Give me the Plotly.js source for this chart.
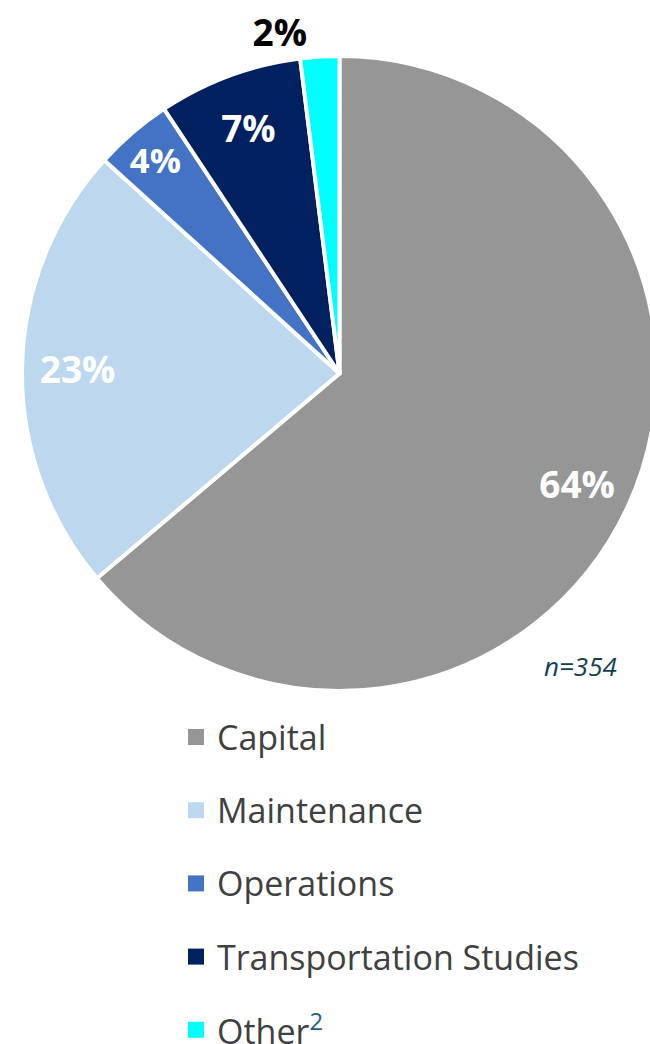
<!DOCTYPE html>
<html>
<head>
<meta charset="utf-8">
<script src="https://cdn.plot.ly/plotly-3.0.1.min.js"></script>
<style>
  html, body { margin: 0; padding: 0; background: #fff; overflow: hidden; }
  #chart { width: 662px; height: 1044px; }
</style>
</head>
<body>
<div id="chart"></div>
<script>
// project counts by type (n=354)
var categories = ["Capital", "Maintenance", "Operations", "Transportation Studies", "Other"];
var counts = [226, 81, 14, 26, 7];
var footnotes = ["", "", "", "", "2"];
var sliceColors = ["#969696", "#BDD7EE", "#4472C4", "#002060", "#00FFFF"];
var labelPositions = ["inside", "inside", "inside", "inside", "outside"];
var sampleNote = "n=354";

var W = 662, H = 1044;
function px(x) { return x / W; }
function py(y) { return 1 - y / H; }

var pieDomain = {x: [px(22), px(657)], y: [py(691), py(56)]};

var pieData = [{
    // the slices
    type: "pie",
    values: counts,
    labels: categories,
    sort: false,
    direction: "clockwise",
    rotation: 0,
    marker: {
        colors: sliceColors,
        line: {color: "#ffffff", width: 4}
    },
    textinfo: "none",
    hoverinfo: "none",
    showlegend: false,
    domain: pieDomain
}, {
    // same values again as a see-through ring, so the % labels sit near the rim
    type: "pie",
    values: counts,
    labels: categories,
    sort: false,
    direction: "clockwise",
    rotation: 0,
    hole: 0.65,
    marker: {
        colors: ["rgba(0,0,0,0)", "rgba(0,0,0,0)", "rgba(0,0,0,0)", "rgba(0,0,0,0)", "rgba(0,0,0,0)"],
        line: {width: 0}
    },
    texttemplate: "%{percent:.0%}",
    textposition: labelPositions,
    insidetextorientation: "horizontal",
    insidetextfont: {family: "Open Sans", size: 37, color: "#ffffff", weight: "bold"},
    outsidetextfont: {family: "Open Sans", size: 37, color: "#000000", weight: "bold"},
    hoverinfo: "none",
    showlegend: false,
    automargin: false,
    domain: pieDomain
}];

// legend, one row per category
var annotations = [];
var shapes = [];
for (var i = 0; i < categories.length; i++) {
    var rowY = 737 + 73.2 * i;
    shapes.push({
        type: "rect", xref: "paper", yref: "paper",
        x0: px(188), x1: px(204), y0: py(rowY - 8), y1: py(rowY + 8),
        fillcolor: sliceColors[i], line: {width: 0}
    });
    var txt = categories[i];
    if (footnotes[i] !== "") {
        txt += "<sup><span style='color:#1f5f7a'>" + footnotes[i] + "</span></sup>";
    }
    annotations.push({
        xref: "paper", yref: "paper",
        x: px(215), y: py(rowY),
        xanchor: "left", yanchor: "middle",
        showarrow: false,
        text: txt,
        font: {family: "Open Sans", size: 34, color: "#404040"}
    });
}

annotations.push({
    xref: "paper", yref: "paper",
    x: px(580), y: py(666),
    xanchor: "center", yanchor: "middle",
    showarrow: false,
    text: "<i>" + sampleNote + "</i>",
    font: {family: "Open Sans", size: 26, color: "#123f52"}
});

var layout = {
    width: W,
    height: H,
    margin: {l: 0, r: 0, t: 0, b: 0},
    paper_bgcolor: "#ffffff",
    showlegend: false,
    annotations: annotations,
    shapes: shapes
};

Plotly.newPlot("chart", pieData, layout, {displayModeBar: false, staticPlot: true});
</script>
</body>
</html>
